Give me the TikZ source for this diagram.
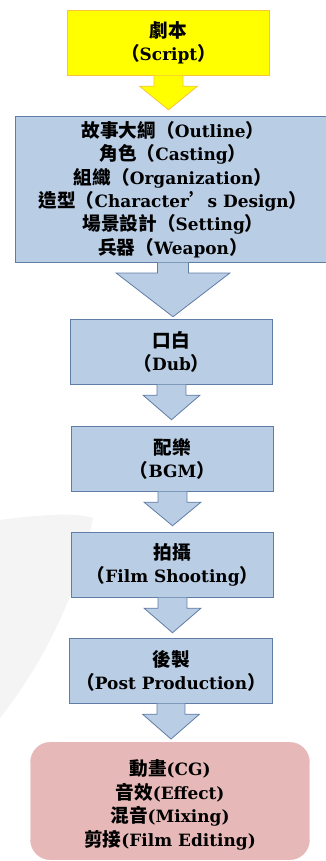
\documentclass[tikz,border=0pt]{standalone}
\usepackage{fontspec}
\setmainfont{DejaVu Serif}
\newfontfamily\cjk{Noto Sans CJK TC}[Scale=1.1]
\usepackage{tikz}
\usetikzlibrary{calc}
\definecolor{scriptfill}{RGB}{255,255,0}
\definecolor{scriptline}{RGB}{247,196,60}
\definecolor{stagefill}{RGB}{185,205,229}
\definecolor{stageline}{RGB}{96,125,165}
\definecolor{finalfill}{RGB}{230,185,184}
\definecolor{markgray}{RGB}{244,244,244}
\def\zh#1{{\cjk #1}}
\def\blockarr[#1](#2)(#3)(#4:#5:#6){\draw[#1] let \p1=(#2.south), \p2=(#3.north) in (\x1-#4,\y1+0.6) -- (\x1-#4,\y1-10) -- (\x1-#5,\y1-10) -- (\x1,\y2+#6) -- (\x1+#5,\y1-10) -- (\x1+#4,\y1-10) -- (\x1+#4,\y1+0.6);}

\begin{document}
\begin{tikzpicture}[x=1bp, y=-1bp,
		boxtext/.style={inner sep=0, align=center, font=\fontsize{17}{23.5}\selectfont\bfseries},
		scriptbox/.style={boxtext, draw=scriptline, fill=scriptfill, line width=0.8, minimum width=203, minimum height=66},
		stagebox/.style={boxtext, draw=stageline, fill=stagefill, line width=0.8, minimum width=203, minimum height=66},
		finalbox/.style={draw=finalfill, fill=finalfill, rounded corners=20, minimum width=280, minimum height=118}]
			%%%%% START %%%%%
			
			\useasboundingbox (0,0) rectangle (325,861);
			\fill[markgray] (0,520) .. controls (35,515) and (75,512) .. (93,518) .. controls (78,595) and (42,665) .. (0,718) -- cycle;
			
			\node[scriptbox] (script) at (168.5,43) {\zh{劇本}\\\zh{（}Script\zh{）}};
			\node[stagebox, minimum width=316, minimum height=147] (plan) at (173,189.5) {\zh{故事大綱（}Outline\zh{）}\\\zh{角色（}Casting\zh{）}\\\zh{組織（}Organization\zh{）}\\\zh{造型（}Character\zh{’}s Design\zh{）}\\\zh{場景設計（}Setting\zh{）}\\\zh{兵器（}Weapon\zh{）}};
			\node[stagebox] (dub) at (171.5,352) {\zh{口白}\\\zh{（}Dub\zh{）}};
			\node[stagebox] (bgm) at (172.5,459) {\zh{配樂}\\\zh{（}BGM\zh{）}};
			\node[stagebox] (shoot) at (172.5,565) {\zh{拍攝}\\\zh{（}Film Shooting\zh{）}};
			\node[stagebox] (post) at (171,671) {\zh{後製}\\\zh{（}Post Production\zh{）}};
			\node[finalbox] (final) at (170,801) {};
			\node[boxtext, yshift=-4] (finaltext) at (final.center) {\zh{動畫}(CG)\\\zh{音效}(Effect)\\\zh{混音}(Mixing)\\\zh{剪接}(Film Editing)};
			
			\blockarr[draw=scriptline, fill=scriptfill, line width=0.8](script)(plan)(14.5:29:6)
			\blockarr[draw=stageline, fill=stagefill, line width=0.8](plan)(dub)(15.5:57:2)
			\blockarr[draw=stageline, fill=stagefill, line width=0.8](dub)(bgm)(14.5:28.5:6)
			\blockarr[draw=stageline, fill=stagefill, line width=0.8](bgm)(shoot)(14.5:28.5:6)
			\blockarr[draw=stageline, fill=stagefill, line width=0.8](shoot)(post)(14.5:28.5:5)
			\blockarr[draw=stageline, fill=stagefill, line width=0.8](post)(final)(14:28.5:3)
			
			%%%%% END %%%%%
\end{tikzpicture}
\end{document}
